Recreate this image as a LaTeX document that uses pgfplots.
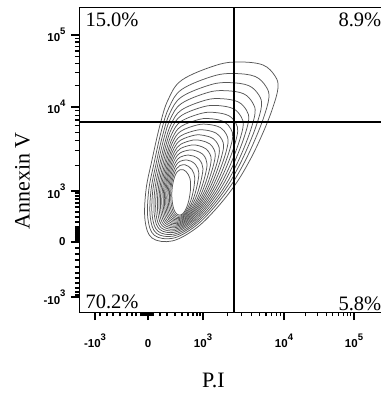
\documentclass[border=0pt]{standalone}
\usepackage{pgfplots}
\pgfplotsset{compat=1.18}
\usepackage{fontspec}
\setmainfont{Liberation Serif}
\setsansfont{Liberation Sans}
% tick label with a raised exponent
\newcommand{\tl}[2]{#1\raisebox{7.5pt}{\fontsize{9.5}{10}\selectfont #2}}
\begin{document}
\begin{tikzpicture}
\begin{axis}[
  scale only axis, width=302pt, height=305pt,
  xmin=0, xmax=302, ymin=0, ymax=305,
  axis x line=bottom, axis y line=left,
  axis line style={-, line width=0.9pt},
  tick align=outside,
  major tick length=8pt, minor tick length=4pt,
  every tick/.style={black, line width=1.1pt},
  xtick={16,69,124,205,275},
  xticklabels={\tl{-10}{3}, \tl{0}{\vphantom{3}}, \tl{10}{3}, \tl{10}{4}, \tl{10}{5}},
  ytick={15,70,121,205,277},
  yticklabels={\tl{-10}{3}, 0, \tl{10}{3}, \tl{10}{4}, \tl{10}{5}},
  minor xtick={21,28,34,41,48,53,57,62,63.5,65,66.5,68,70,71.5,73,74.5,81,88,96,103,109,114,118,121,148.4,162.6,172.8,180.6,187,192.5,197.1,201.3,226.1,238.4,247.1,253.9,259.5,264.2,268.2,271.8},
  minor ytick={17,20,24,29,34,39,45,52,58,64,71,72.5,74,75.5,77,79,81,83,85,90,95,100,105,109,113,116,119,146.3,161.1,171.6,179.7,186.4,192,196.9,201.2,226.7,239.4,248.3,255.3,261,265.8,270,273.7},
  tick label style={font=\sffamily\bfseries\fontsize{11.5}{12}\selectfont},
  xticklabel style={yshift=-10pt},
  yticklabel style={xshift=-2pt},
  xlabel={P.I}, ylabel={Annexin V},
  every axis x label/.style={at={(axis description cs:0.445,-0.2246)}, anchor=center, font=\fontsize{22}{24}\selectfont},
  every axis y label/.style={at={(axis description cs:-0.187,0.43)}, anchor=center, rotate=90, font=\fontsize{22}{24}\selectfont},
  clip=false,
  contour/.style={draw=black!66, line width=0.75pt, smooth cycle, tension=0.6, mark=none},
]
% top frame line
\addplot [black, line width=0.9pt] coordinates {(0,305) (302,305)};

% nested contour levels, outermost first
\addplot [contour] coordinates {(138,247) (161,250) (184,247) (196,236) (199,224) (193,202) (183,177) (171,152) (156,127) (136,102) (116,83) (93,71) (73,74) (66,92) (67,122) (73,152) (81,187) (89,212) (103,232)};
\addplot [contour] coordinates {(134.5,236.0) (155.4,238.5) (176.2,235.5) (187.1,225.3) (189.9,214.2) (184.5,194.0) (175.5,171.2) (164.7,148.3) (151.1,125.3) (133.0,102.2) (114.7,84.6) (93.7,73.7) (75.4,76.7) (68.9,93.4) (69.7,121.4) (75.2,149.5) (82.5,181.6) (90.0,204.5) (102.8,222.6)};
\addplot [contour] coordinates {(131.7,227.3) (150.8,229.4) (169.9,226.3) (180.0,216.7) (182.5,206.3) (177.7,187.6) (169.5,166.5) (159.6,145.3) (147.2,123.9) (130.6,102.3) (113.7,85.9) (94.3,75.9) (77.4,78.8) (71.3,94.6) (71.9,121.0) (76.9,147.4) (83.8,177.3) (90.7,198.5) (102.6,215.1)};
\addplot [contour] coordinates {(129.2,219.6) (146.9,221.3) (164.5,218.3) (173.7,209.2) (176.1,199.4) (171.7,182.1) (164.3,162.4) (155.2,142.6) (143.8,122.6) (128.5,102.5) (112.9,87.0) (94.8,77.8) (79.1,80.7) (73.3,95.6) (73.7,120.6) (78.4,145.6) (84.9,173.6) (91.4,193.2) (102.5,208.5)};
\addplot [contour] coordinates {(126.7,211.9) (142.9,213.3) (159.0,210.2) (167.5,201.7) (169.7,192.5) (165.7,176.5) (159.0,158.3) (150.8,140.0) (140.4,121.4) (126.4,102.6) (112.0,88.2) (95.4,79.7) (80.8,82.5) (75.4,96.6) (75.6,120.2) (79.9,143.8) (86.0,169.8) (92.1,187.9) (102.3,201.9)};
\addplot [contour] coordinates {(124.6,205.3) (139.5,206.4) (154.3,203.3) (162.1,195.3) (164.2,186.6) (160.6,171.7) (154.5,154.8) (147.0,137.8) (137.5,120.4) (124.6,102.7) (111.2,89.2) (95.8,81.3) (82.3,84.1) (77.1,97.5) (77.3,119.8) (81.2,142.3) (86.9,166.6) (92.6,183.4) (102.2,196.3)};
\addplot [contour] coordinates {(122.5,198.7) (136.1,199.5) (149.6,196.4) (156.8,188.9) (158.7,180.7) (155.5,166.9) (150.0,151.3) (143.2,135.5) (134.6,119.3) (122.8,102.8) (110.5,90.1) (96.3,82.9) (83.8,85.7) (78.9,98.4) (78.9,119.5) (82.5,140.8) (87.8,163.4) (93.2,178.9) (102.0,190.6)};
\addplot [contour] coordinates {(120.6,192.7) (133.0,193.2) (145.3,190.1) (151.9,183.0) (153.7,175.2) (150.8,162.5) (145.9,148.1) (139.8,133.4) (131.9,118.3) (121.1,102.9) (109.8,91.0) (96.7,84.4) (85.1,87.2) (80.5,99.2) (80.4,119.2) (83.7,139.4) (88.7,160.4) (93.8,174.8) (101.9,185.5)};
\addplot [contour] coordinates {(118.8,187.2) (130.2,187.5) (141.4,184.4) (147.4,177.6) (149.1,170.3) (146.6,158.5) (142.1,145.2) (136.6,131.6) (129.5,117.5) (119.6,103.0) (109.1,91.8) (97.0,85.8) (86.4,88.6) (82.0,99.9) (81.7,118.9) (84.8,138.1) (89.4,157.7) (94.2,171.0) (101.8,180.8)};
\addplot [contour] coordinates {(117.1,181.7) (127.4,181.8) (137.5,178.6) (143.0,172.3) (144.6,165.4) (142.3,154.5) (138.4,142.3) (133.5,129.7) (127.0,116.6) (118.1,103.1) (108.5,92.6) (97.4,87.1) (87.6,89.9) (83.4,100.6) (83.1,118.6) (85.9,136.8) (90.2,155.0) (94.7,167.3) (101.7,176.1)};
\addplot [contour] coordinates {(115.5,176.8) (124.8,176.6) (134.0,173.5) (139.0,167.5) (140.4,161.0) (138.5,150.9) (135.0,139.7) (130.6,128.0) (124.8,115.8) (116.7,103.2) (107.9,93.4) (97.7,88.3) (88.7,91.1) (84.8,101.3) (84.3,118.4) (86.9,135.7) (90.9,152.6) (95.1,163.9) (101.6,171.8)};
\addplot [contour] coordinates {(113.9,171.9) (122.3,171.4) (130.5,168.3) (135.0,162.6) (136.3,156.5) (134.6,147.3) (131.6,137.1) (127.8,126.3) (122.6,115.0) (115.4,103.3) (107.4,94.1) (98.1,89.6) (89.8,92.3) (86.1,101.9) (85.5,118.1) (87.9,134.5) (91.6,150.2) (95.6,160.5) (101.5,167.6)};
\addplot [contour] coordinates {(112.3,166.9) (119.8,166.3) (127.0,163.1) (131.0,157.8) (132.2,152.1) (130.8,143.7) (128.3,134.4) (124.9,124.6) (120.4,114.2) (114.0,103.4) (106.8,94.8) (98.4,90.8) (90.9,93.5) (87.4,102.6) (86.7,117.8) (88.8,133.4) (92.3,147.8) (96.0,157.1) (101.4,163.4)};
\addplot [contour] coordinates {(110.7,162.0) (117.2,161.1) (123.5,158.0) (126.9,153.0) (128.1,147.7) (127.0,140.2) (124.9,131.8) (122.1,122.9) (118.3,113.4) (112.7,103.5) (106.2,95.6) (98.7,92.0) (92.0,94.7) (88.7,103.2) (87.9,117.6) (89.8,132.2) (93.0,145.4) (96.4,153.7) (101.3,159.2)};
\addplot [contour] coordinates {(109.1,157.0) (114.7,155.9) (120.0,152.8) (122.9,148.2) (124.0,143.2) (123.1,136.6) (121.5,129.2) (119.3,121.3) (116.1,112.7) (111.3,103.6) (105.7,96.3) (99.1,93.2) (93.1,95.9) (90.0,103.9) (89.1,117.3) (90.8,131.1) (93.7,143.0) (96.9,150.3) (101.2,154.9)};
\addplot [contour] coordinates {(107.6,152.1) (112.1,150.8) (116.4,147.6) (118.9,143.4) (119.9,138.8) (119.3,133.0) (118.1,126.6) (116.4,119.6) (113.9,111.9) (110.0,103.6) (105.1,97.0) (99.4,94.4) (94.2,97.1) (91.3,104.5) (90.4,117.1) (91.8,129.9) (94.4,140.5) (97.3,147.0) (101.1,150.7)};
\addplot [contour] coordinates {(106.0,147.2) (109.6,145.6) (112.9,142.4) (114.9,138.5) (115.7,134.4) (115.5,129.4) (114.8,123.9) (113.6,117.9) (111.7,111.1) (108.6,103.7) (104.5,97.7) (99.7,95.7) (95.3,98.3) (92.7,105.2) (91.6,116.8) (92.7,128.8) (95.1,138.1) (97.7,143.6) (101.0,146.5)};
\addplot [contour] coordinates {(104.4,142.2) (107.0,140.5) (109.4,137.3) (110.9,133.7) (111.6,129.9) (111.6,125.8) (111.4,121.3) (110.7,116.2) (109.5,110.3) (107.3,103.8) (104.0,98.5) (100.1,96.9) (96.4,99.5) (94.0,105.8) (92.8,116.6) (93.7,127.6) (95.8,135.7) (98.2,140.2) (100.9,142.2)};

% quadrant gates
\addplot [black, line width=1.8pt] coordinates {(155,0) (155,305)};
\addplot [black, line width=1.8pt] coordinates {(0,190) (302,190)};

% quadrant percentages
\node [anchor=base west, font=\fontsize{20.5}{24}\selectfont] at (axis cs:3,285) {15.0\%};
\node [anchor=base west, font=\fontsize{20.5}{24}\selectfont] at (axis cs:256,285) {8.9\%};
\node [anchor=base west, font=\fontsize{20.5}{24}\selectfont] at (axis cs:3,4) {70.2\%};
\node [anchor=base west, font=\fontsize{20.5}{24}\selectfont] at (axis cs:256,2) {5.8\%};
\end{axis}
\pgfresetboundingbox
\useasboundingbox (-79pt,-84pt) rectangle (302pt,312pt);
\end{tikzpicture}
\end{document}
